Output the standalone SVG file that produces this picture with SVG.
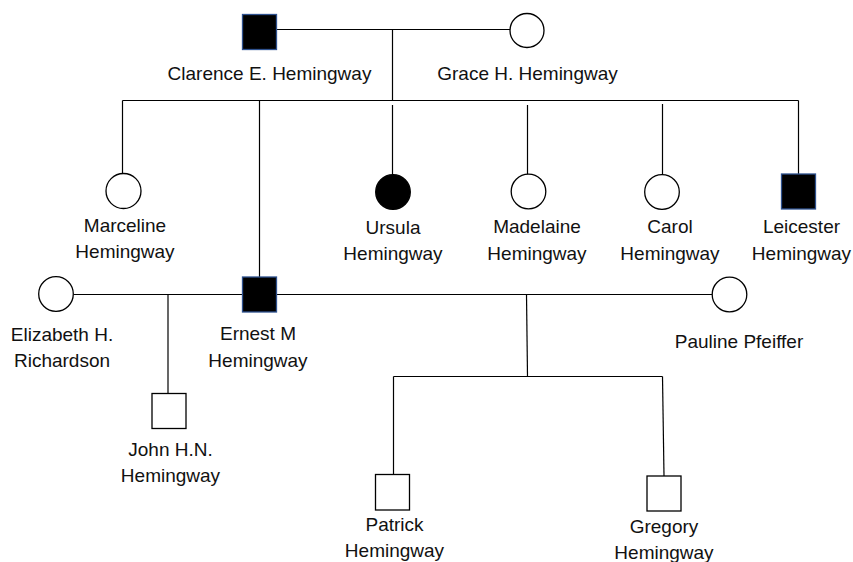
<svg xmlns="http://www.w3.org/2000/svg" width="853" height="562" viewBox="0 0 853 562">
<style>
.ln{stroke:#000;stroke-width:1.2;fill:none}
.f{fill:#fff;stroke:#000;stroke-width:1.3}
.a{fill:#000;stroke:#2F528F;stroke-width:1.3}
.b{fill:#000;stroke:#000;stroke-width:1.3}
text{font-family:"Liberation Sans",Arial,sans-serif;font-size:19px;fill:#111;text-anchor:middle}
</style>
<rect width="853" height="562" fill="#fff"/>
<g id="connectors">
<path class="ln" d="M277 29.5H510"/>
<path class="ln" d="M392.5 29.5V100.5"/>
<path class="ln" d="M122.5 100.5H798.5"/>
<path class="ln" d="M122.5 100.5V173"/>
<path class="ln" d="M259.5 100.5V277"/>
<path class="ln" d="M392.5 105V174"/>
<path class="ln" d="M527.5 105V174"/>
<path class="ln" d="M662.5 104V175"/>
<path class="ln" d="M798.5 100.5V174"/>
<path class="ln" d="M73.5 294.5H242"/>
<path class="ln" d="M168 294.5V393"/>
<path class="ln" d="M277 294.5H712"/>
<path class="ln" d="M526.5 294.5L527.5 376.5"/>
<path class="ln" d="M393.5 376.5H662.5"/>
<path class="ln" d="M393.5 376.5V474"/>
<path class="ln" d="M662.5 376.5L664 476"/>
</g>
<g id="clarence"><rect class="a" x="242.5" y="14.5" width="34" height="35"/><text x="269.5" y="80">Clarence E. Hemingway</text></g>
<g id="grace"><circle class="f" cx="527" cy="30.5" r="17"/><text x="527.5" y="80">Grace H. Hemingway</text></g>
<g id="marceline"><circle class="f" cx="123.5" cy="191" r="17.5"/><text x="125" y="232">Marceline</text><text x="125" y="258">Hemingway</text></g>
<g id="ursula"><circle class="b" cx="393" cy="192" r="17.3"/><text x="393" y="234">Ursula</text><text x="393" y="260">Hemingway</text></g>
<g id="madelaine"><circle class="f" cx="528.5" cy="191.5" r="17.3"/><text x="537" y="233">Madelaine</text><text x="537" y="260">Hemingway</text></g>
<g id="carol"><circle class="f" cx="662" cy="192" r="17.3"/><text x="670" y="233">Carol</text><text x="670" y="260">Hemingway</text></g>
<g id="leicester"><rect class="a" x="781.5" y="174" width="34" height="35"/><text x="801.5" y="233">Leicester</text><text x="801.5" y="260">Hemingway</text></g>
<g id="elizabeth"><circle class="f" cx="56" cy="294" r="17.3"/><text x="62" y="341">Elizabeth H.</text><text x="62" y="367">Richardson</text></g>
<g id="ernest"><rect class="a" x="242.5" y="277" width="34" height="35"/><text x="258" y="340">Ernest M</text><text x="258" y="366.5">Hemingway</text></g>
<g id="pauline"><circle class="f" cx="729.5" cy="294.5" r="17.3"/><text x="739" y="347.5">Pauline Pfeiffer</text></g>
<g id="john"><rect class="f" x="152" y="393.5" width="34" height="35"/><text x="170.5" y="455.5">John H.N.</text><text x="170.5" y="482">Hemingway</text></g>
<g id="patrick"><rect class="f" x="375.5" y="474.5" width="34" height="35.5"/><text x="394.5" y="531">Patrick</text><text x="394.5" y="557">Hemingway</text></g>
<g id="gregory"><rect class="f" x="647" y="476" width="34" height="35"/><text x="664" y="532.5">Gregory</text><text x="664" y="558.5">Hemingway</text></g>
</svg>
